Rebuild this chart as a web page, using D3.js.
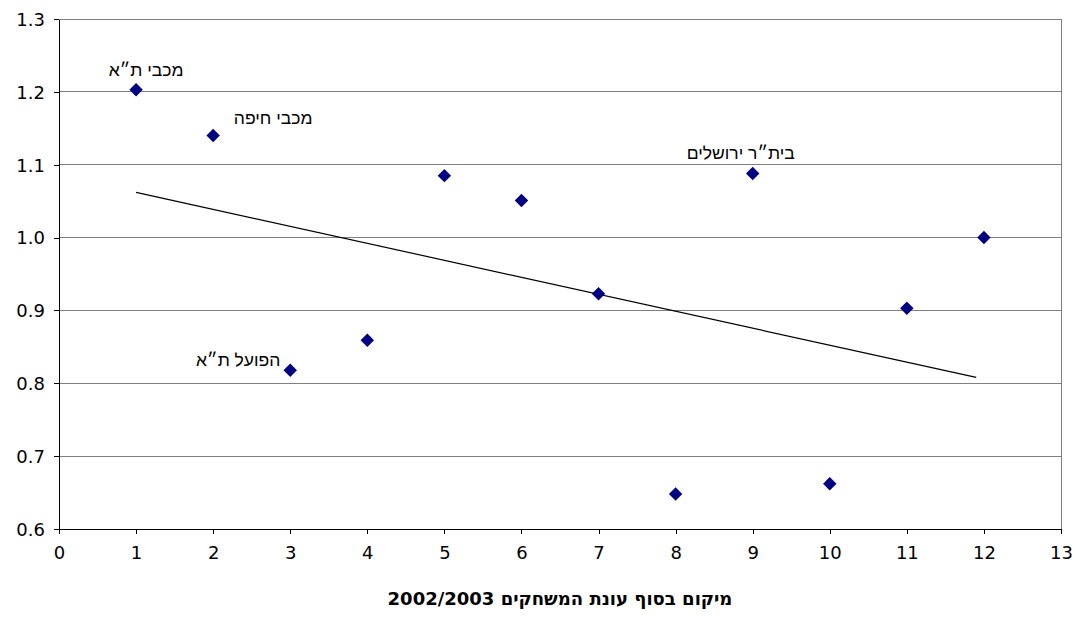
<!DOCTYPE html>
<html><head><meta charset="utf-8">
<script src="https://cdn.jsdelivr.net/npm/d3@7"></script>
<style>body{margin:0;background:#fff}svg{display:block}</style>
</head><body>
<svg id="c" width="1078" height="617"></svg>
<script>
const positions = [1,2,3,4,5,6,7,8,9,10,11,12];
const values = [1.203,1.140,0.818,0.859,1.085,1.051,0.923,0.648,1.088,0.662,0.903,1.000];
const trendX = [1, 11.9];
const trendY = [1.062, 0.808];
const xTicks = [0,1,2,3,4,5,6,7,8,9,10,11,12,13];
const yTicks = [0.6,0.7,0.8,0.9,1.0,1.1,1.2,1.3];
const labelTexts = ["מכבי ת״א","מכבי חיפה","הפועל ת״א","בית״ר ירושלים"];
const labelIdx = [0,1,2,8];
const labelDx = [10,60,-52,-12];
const labelDy = [-20,-18,-10,-21];
const xTitle = "מיקום בסוף עונת המשחקים 2002/2003";

const svg = d3.select("#c");
const L=59,R=1061,T=19,B=529;
const x = d3.scaleLinear().domain([0,13]).range([L,R]);
const y = d3.scaleLinear().domain([0.6,1.3]).range([B,T]);
const tickFont = "'DejaVu Sans', sans-serif";

// gridlines
svg.append("g").selectAll("line").data(yTicks.filter(v=>v>0.6)).join("line")
  .attr("x1",L).attr("x2",R).attr("y1",d=>y(d)).attr("y2",d=>y(d))
  .attr("stroke","#808080").attr("stroke-width",1).attr("shape-rendering","crispEdges");
// right border
svg.append("line").attr("x1",R).attr("x2",R).attr("y1",T).attr("y2",B)
  .attr("stroke","#808080").attr("shape-rendering","crispEdges");

// axes
const ya = svg.append("g").attr("transform",`translate(${L},0)`)
  .call(d3.axisLeft(y).tickValues(yTicks).tickFormat(d3.format(".1f")).tickSize(5).tickSizeOuter(0));
const xa = svg.append("g").attr("transform",`translate(0,${B})`)
  .call(d3.axisBottom(x).tickValues(xTicks).tickFormat(d3.format("d")).tickSize(5).tickSizeOuter(0));
[ya,xa].forEach(g=>{
  g.selectAll("path,line").attr("stroke","#000").attr("shape-rendering","crispEdges");
  g.selectAll("text").attr("font-family",tickFont).attr("font-size",18).attr("fill","#000");
});
ya.selectAll("text").attr("x",-14).attr("dy","0.35em");
xa.selectAll("text").attr("y",17).attr("dy","0.71em");

// trend line
svg.append("line").attr("x1",x(trendX[0])).attr("y1",y(trendY[0]))
  .attr("x2",x(trendX[1])).attr("y2",y(trendY[1]))
  .attr("stroke","#000").attr("stroke-width",1.2);

// points
svg.append("g").selectAll("path").data(positions).join("path")
  .attr("d",d3.symbol(d3.symbolDiamond2,115))
  .attr("transform",(d,i)=>`translate(${x(d)},${y(values[i])})`)
  .attr("fill","#000080");

// labels
svg.append("g").selectAll("text").data(labelTexts).join("text")
  .attr("x",(d,i)=>x(positions[labelIdx[i]])+labelDx[i])
  .attr("y",(d,i)=>y(values[labelIdx[i]])+labelDy[i])
  .attr("text-anchor","middle").attr("dy","0.35em")
  .attr("font-family","'Liberation Sans', Arial, sans-serif").attr("font-size",17.5)
  .attr("fill","#000").text(d=>d);

// x title
svg.append("text").attr("x",560).attr("y",605).attr("text-anchor","middle")
  .attr("font-family","'DejaVu Sans', sans-serif").attr("font-weight","bold").attr("font-size",18)
  .text(xTitle);
</script>
</body></html>
